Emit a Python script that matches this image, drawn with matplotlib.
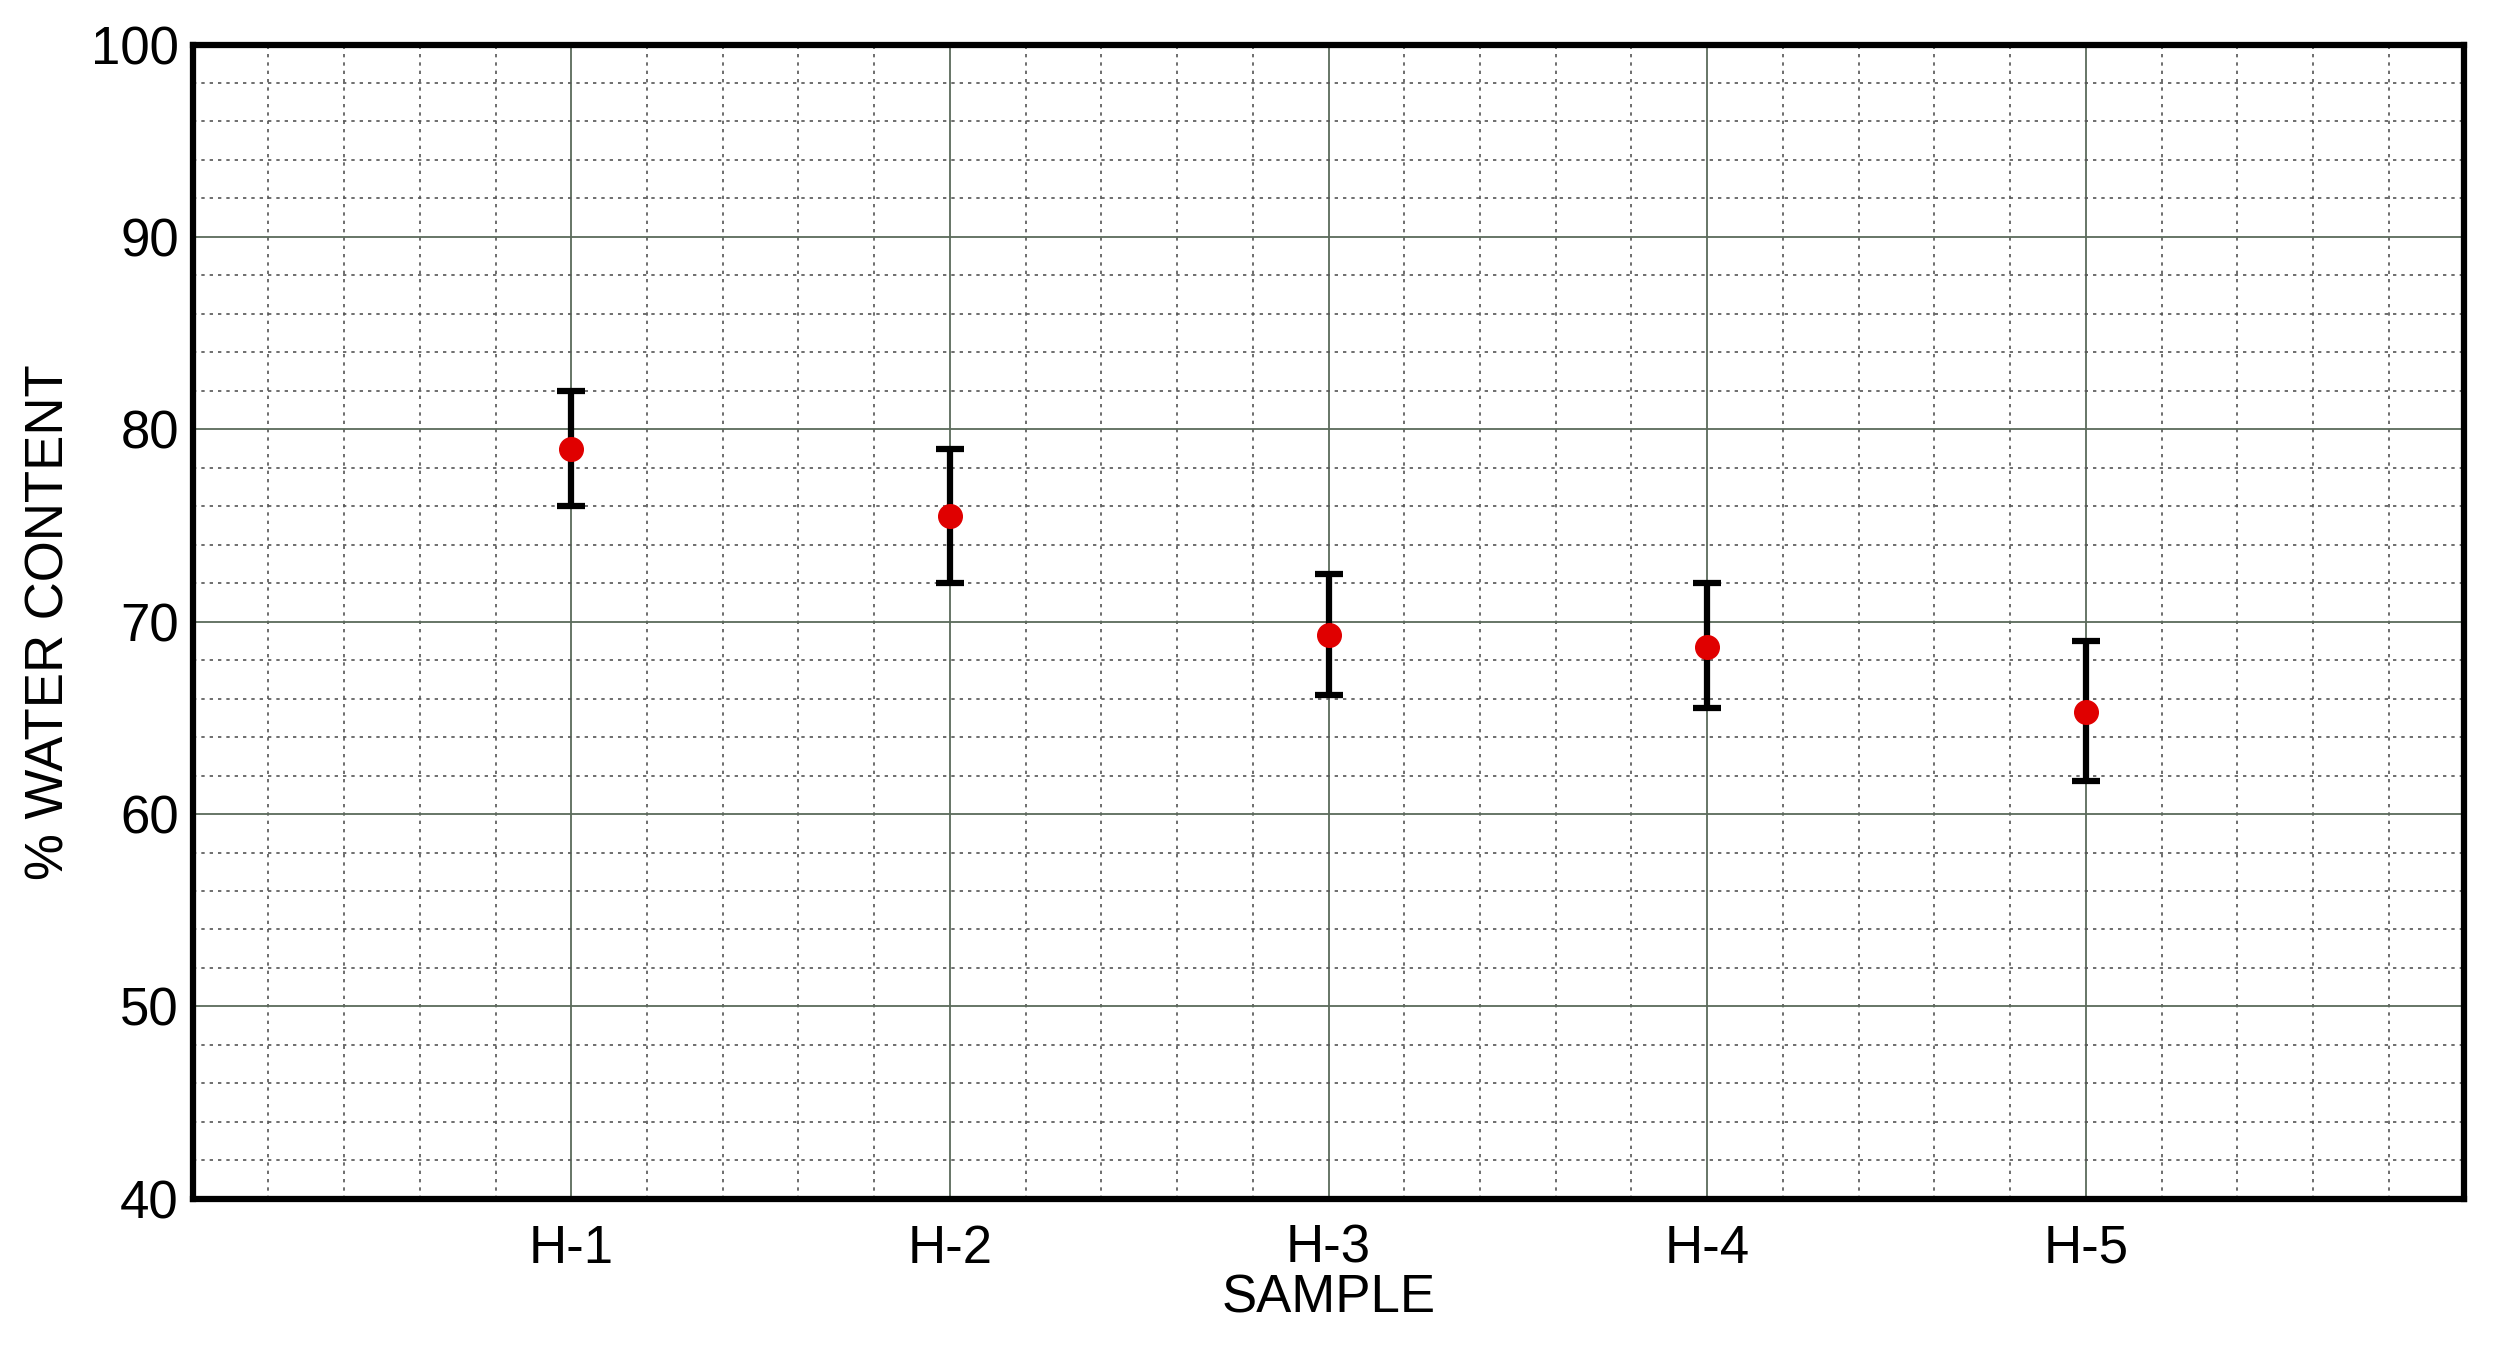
import matplotlib.pyplot as plt
import numpy as np

samples = ["H-1", "H-2", "H-3", "H-4", "H-5"]
water = [79.0, 75.5, 69.3, 68.7, 65.3]
err_low = [76.0, 72.0, 66.2, 65.5, 61.7]
err_high = [82.0, 79.0, 72.5, 72.0, 69.0]

plt.rcParams['font.family'] = ['Liberation Sans', 'DejaVu Sans']

fig = plt.figure(figsize=(25.02, 13.5), dpi=100)
ax = fig.add_axes([0.077, 0.112, 0.913, 0.855])
ax.set_position([0.077, 0.112, 0.908, 0.855])

x = np.arange(1, len(samples) + 1)
yerr = [np.array(water) - np.array(err_low), np.array(err_high) - np.array(water)]
ax.errorbar(x, water, yerr=yerr, fmt='o', color='#e00000', markersize=17,
            ecolor='black', elinewidth=4.5, capsize=10, capthick=4.5, zorder=5)

ax.set_xlim(0, 6)
ax.set_ylim(40, 100)
ax.set_xticks(x)
ax.set_xticklabels(samples)
ax.set_xticks(np.arange(0, 6.01, 0.2), minor=True)
ax.set_yticks(np.arange(40, 101, 10))
ax.set_yticks(np.arange(40, 101, 2), minor=True)
ax.grid(which='major', color='#5a6a5a', linewidth=1.3)
ax.grid(which='minor', color='#555555', linewidth=1.2, linestyle=(0, (2, 3)))
ax.tick_params(which='both', length=0, labelsize=38)
ax.tick_params(axis='x', pad=18)
ax.tick_params(axis='y', pad=10)
for s in ax.spines.values():
    s.set_linewidth(4.5)

ax.set_xlabel("SAMPLE", fontsize=38, labelpad=0)
ax.set_ylabel("% WATER CONTENT", fontsize=38, labelpad=12)

fig.savefig("out.png")
